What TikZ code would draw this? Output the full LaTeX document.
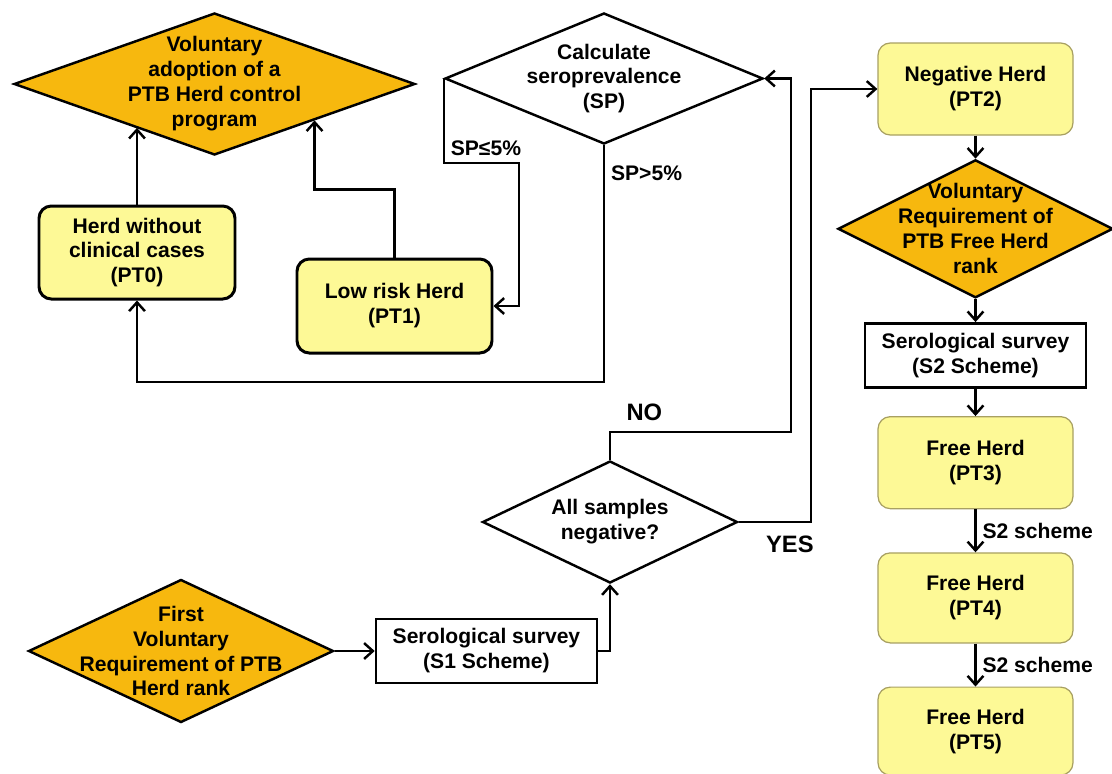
\documentclass[tikz,border=0pt]{standalone}
\usepackage{fontspec}
\setmainfont{Liberation Sans}
\usetikzlibrary{positioning,shapes.geometric,arrows.meta}
\definecolor{gold}{RGB}{247,184,14}
\definecolor{paleyellow}{RGB}{253,249,150}
\definecolor{paleline}{RGB}{168,160,98}
\tikzset{font=\fontsize{12}{14.2}\selectfont\bfseries}
\tikzset{
herd/.style = {draw, align=center, rectangle, rounded corners=7pt, fill=paleyellow, line width=1.7pt, minimum width=3.9cm, minimum height=1.86cm},
herdthin/.style = {herd, draw=paleline, line width=0.7pt},
survey/.style = {draw, align=center, rectangle, fill=white, minimum width=4.42cm, minimum height=1.28cm},
choice/.style = {draw, align=center, diamond, fill=gold, inner sep=-12pt},
decision/.style = {draw, align=center, diamond, fill=white, inner sep=-12pt},
tag/.style = {font=\fontsize{13.5}{16}\selectfont\bfseries}
}

\begin{document}
\begin{tikzpicture}[node distance = 0.46cm and 0.8cm, >={Straight Barb[length=5pt,width=9pt]}, line width=1.4pt]

	\useasboundingbox (0,0) rectangle (22.24,-15.46);

	% left part
	\node[choice, shape aspect=2.82, minimum width=8.02cm, minimum height=2.84cm] (adopt) at (4.29,-1.68) {Voluntary\\adoption of a\\PTB Herd control\\program};
	\node[decision, shape aspect=2.43, minimum width=6.36cm, minimum height=2.62cm] (calc) at (12.08,-1.57) {Calculate\\seroprevalence\\(SP)};
	\node[herd, minimum width=3.92cm] (pt0) at (2.74,-5.05) {Herd without\\clinical cases\\(PT0)};
	\node[herd, minimum height=1.88cm] (pt1) at (7.89,-6.12) {Low risk Herd\\(PT1)};

	% bottom part
	\node[choice, shape aspect=2.13, minimum width=6.1cm, minimum height=2.86cm] (first) at (3.62,-13.02) {First\\Voluntary\\Requirement of PTB\\Herd rank};
	\node[survey, right =0.8cm of first] (serone) {Serological survey\\(S1 Scheme)};
	\node[decision, shape aspect=2.09, minimum width=5.1cm, minimum height=2.44cm] (allneg) at (12.2,-10.44) {All samples\\negative?};

	% right column
	\node[herdthin, minimum height=1.84cm] (pt2) at (19.51,-1.78) {Negative Herd\\(PT2)};
	\node[choice, shape aspect=2.0, below =of pt2, minimum width=5.5cm, minimum height=2.76cm] (freereq) {Voluntary\\Requirement of\\PTB Free Herd\\rank};
	\node[survey, below =of freereq] (sertwo) {Serological survey\\(S2 Scheme)};
	\node[herdthin, below =0.55cm of sertwo, minimum height=1.84cm] (pt3) {Free Herd\\(PT3)};
	\node[herdthin, below =0.86cm of pt3, minimum height=1.8cm] (pt4) {Free Herd\\(PT4)};
	\node[herdthin, below =0.86cm of pt4, minimum height=1.76cm] (pt5) {Free Herd\\(PT5)};

	\draw[->] (pt0.north) -- (pt0.north |- adopt.209);
	\draw[->] (pt1.north) -- ++(0,1.36) -| (adopt.340);
	\draw[->] (calc.west) -- ++(0,-1.69) node[above right]{SP≤5\%} -- ++(1.5,0) |- (pt1.east);
	\draw[->] (calc.south) -- node[pos=0.12, right]{SP>5\%} ++(0,-4.74) -| (pt0.south);
	\draw[->] (first.east) -- (serone.west);
	\draw[->] (serone.east) -| (allneg.south);
	\draw[->] (allneg.north) -- ++(0,0.56) -- node[pos=0.19, above, yshift=2pt, tag]{NO} ++(3.62,0) |- (calc.east);
	\draw[->] (allneg.east) -- node[pos=0.71, below, yshift=-4pt, tag]{YES} ++(1.44,0) |- (pt2.west);
	\draw[->] (pt2) -- (freereq);
	\draw[->] (freereq) -- (sertwo);
	\draw[->] (sertwo) -- (pt3);
	\draw[->] (pt3) -- node[right]{S2 scheme} (pt4);
	\draw[->] (pt4) -- node[right]{S2 scheme} (pt5);

\end{tikzpicture}
\end{document}
